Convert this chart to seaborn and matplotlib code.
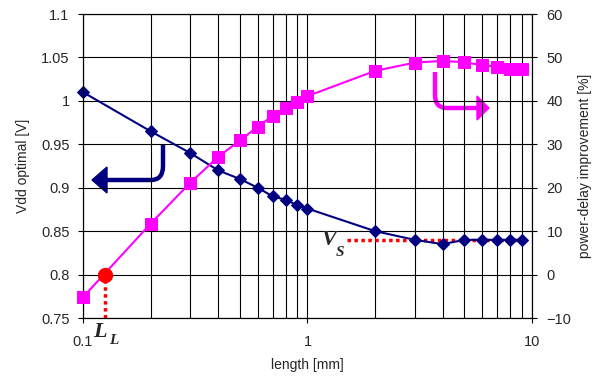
import matplotlib
matplotlib.use("Agg")
import matplotlib.pyplot as plt
import seaborn as sns
import pandas as pd
from matplotlib.path import Path
from matplotlib.patches import PathPatch, Polygon
from matplotlib.ticker import FixedLocator, NullFormatter

# ---- data ----
lengths = [0.1, 0.2, 0.3, 0.4, 0.5, 0.6, 0.7, 0.8, 0.9, 1, 2, 3, 4, 5, 6, 7, 8, 9]
vdd_optimal = [1.01, 0.965, 0.94, 0.92, 0.91, 0.90, 0.89, 0.886, 0.88, 0.876,
               0.85, 0.84, 0.835, 0.84, 0.84, 0.84, 0.84, 0.84]
pd_improvement = [-5.2, 11.7, 21.1, 27.1, 30.9, 34.0, 36.6, 38.4, 39.8, 41.1,
                  46.9, 48.8, 49.2, 48.9, 48.2, 47.9, 47.3, 47.3]
left_ticks = [0.75, 0.8, 0.85, 0.9, 0.95, 1, 1.05, 1.1]
left_labels = ["0.75", "0.8", "0.85", "0.9", "0.95", "1", "1.05", "1.1"]
right_ticks = [-10, 0, 10, 20, 30, 40, 50, 60]
x_ticks = [0.1, 1, 10]
x_labels = ["0.1", "1", "10"]
LL_point = (0.125, 0.80)
VS_level = 0.84
VS_span = (1.5, 9)

df = pd.DataFrame({"length": lengths, "vdd": vdd_optimal, "pdi": pd_improvement})

sns.set_theme(style="white")
plt.rcParams["font.family"] = ["Liberation Sans", "DejaVu Sans"]

W, H = 602, 377
fig = plt.figure(figsize=(W / 100, H / 100), dpi=100)
L, R, T, B = 83, 532, 14, 318
ax = fig.add_axes([L / W, 1 - B / H, (R - L) / W, (B - T) / H])
ax2 = ax.twinx()

navy = "#000080"
magenta = "#FF00FF"

sns.lineplot(data=df, x="length", y="vdd", ax=ax, color=navy, marker="D",
             markersize=6, markeredgecolor=navy, linewidth=1.5, zorder=5)
sns.lineplot(data=df, x="length", y="pdi", ax=ax2, color=magenta, marker="s",
             markersize=8, markeredgecolor=magenta, linewidth=1.5, zorder=5)
for ln in ax.lines + ax2.lines:
    ln.set_clip_on(False)

ax.set_xscale("log")
ax.set_xlim(0.1, 10)
ax.set_ylim(0.75, 1.1)
ax2.set_ylim(-10, 60)

ax.set_yticks(left_ticks)
ax.set_yticklabels(left_labels)
ax2.set_yticks(right_ticks)
ax.set_xticks(x_ticks)
ax.set_xticklabels(x_labels)
minor = [m * d for d in (0.1, 1) for m in range(2, 10)]
ax.xaxis.set_minor_locator(FixedLocator(minor))
ax.xaxis.set_minor_formatter(NullFormatter())

ax.grid(True, which="major", axis="both", color="black", linewidth=0.8)
ax.grid(True, which="minor", axis="x", color="black", linewidth=0.8)
ax.set_axisbelow(True)
ax2.grid(False)

for a in (ax, ax2):
    for s in a.spines.values():
        s.set_color("black")
        s.set_linewidth(0.8)
ax.tick_params(axis="y", which="major", left=True, length=3.6, width=0.8, color="black",
               labelsize=10.5, pad=6.1, direction="out")
ax.tick_params(axis="x", which="major", bottom=True, length=3.6, width=0.8, color="black",
               labelsize=10.5, pad=8.4, direction="out")
ax.tick_params(axis="x", which="minor", bottom=False)
ax2.tick_params(axis="y", which="major", right=True, length=3.6, width=0.8, color="black",
                labelsize=10.5, pad=7, direction="out")

ax.set_xlabel("length [mm]", fontsize=10, va="center")
ax.set_ylabel("Vdd optimal [V]", fontsize=10, va="center")
ax2.set_ylabel("power-delay improvement [%]", fontsize=10, va="center")
ax.xaxis.set_label_coords(0.5, (B - 365) / (B - T))
ax.yaxis.set_label_coords((23 - L) / (R - L), 0.5)
ax2.yaxis.set_label_coords((585 - L) / (R - L), 0.5)

ax.set_zorder(2)
ax.patch.set_visible(False)
ax2.set_zorder(3)
ax2.patch.set_visible(False)

# L_L marker and dotted line
ax.plot([LL_point[0], LL_point[0]], [0.75, LL_point[1]], color="red", linestyle=(0, (1, 1)),
        linewidth=2.5, zorder=6, clip_on=False)
ax2.plot([LL_point[0]], [(LL_point[1] - 0.75) / 0.35 * 70 - 10], marker="o", color="red",
         markersize=10, zorder=7)

# V_S dotted line
ax.plot(list(VS_span), [VS_level, VS_level], color="red", linestyle=(0, (1, 1)),
        linewidth=2.5, zorder=4)

serif = ["Liberation Serif", "DejaVu Serif"]
fig.text(322 / W, 1 - 240 / H, "V", fontsize=16, fontweight="bold", style="italic",
         family=serif, va="center", ha="left")
fig.text(336 / W, 1 - 252 / H, "S", fontsize=11, fontweight="bold", style="italic",
         family=serif, va="center", ha="left")
fig.text(93 / W, 1 - 332 / H, "L", fontsize=16, fontweight="bold", style="italic",
         family=serif, va="center", ha="left")
fig.text(109 / W, 1 - 341 / H, "L", fontsize=11, fontweight="bold", style="italic",
         family=serif, va="center", ha="left")

# curved arrows (figure pixel coords)
def px(x, y):
    return (x / W, 1 - y / H)

def curved_arrow(p0, p1, yh, tip_x, half, base_x, color, lw):
    corner = (p1[0], yh)
    start_h = (p1[0] + (12 if base_x > p1[0] else -12), yh)
    verts = [px(*p0), px(*p1), px(*corner), px(*start_h), px(base_x, yh)]
    codes = [Path.MOVETO, Path.LINETO, Path.CURVE3, Path.CURVE3, Path.LINETO]
    patch = PathPatch(Path(verts, codes), facecolor="none", edgecolor=color, lw=lw,
                      transform=fig.transFigure, capstyle="butt")
    fig.add_artist(patch)
    head = Polygon([px(tip_x, yh), px(base_x, yh - half), px(base_x, yh + half)],
                   closed=True, facecolor=color, edgecolor=color, transform=fig.transFigure)
    fig.add_artist(head)

curved_arrow((163, 144), (163, 166), 180, 92, 13, 107, navy, 3.2)
curved_arrow((435, 72), (435, 95), 108, 489, 12, 477, magenta, 3.2)

fig.savefig("out.png", dpi=100)
